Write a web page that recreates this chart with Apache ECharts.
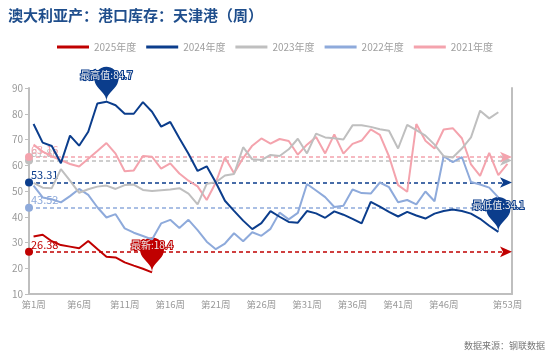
<!DOCTYPE html>
<html><head><meta charset="utf-8">
<script src="https://cdn.jsdelivr.net/npm/echarts@6/dist/echarts.min.js"></script>
<style>html,body{margin:0;padding:0;background:#fff}#c{width:550px;height:360px}</style>
</head><body><div id="c"></div>
<script>
const weeks = Array.from({length: 53}, (_, i) => '第' + (i + 1) + '周');
const seriesNames = ['2025年度', '2024年度', '2023年度', '2022年度', '2021年度'];
const s2025 = [32.3,33.0,30.5,29.0,28.4,27.8,30.6,27.5,24.5,24.2,22.3,21.0,19.8,18.4];
const s2024 = [76.0,68.8,67.5,60.8,71.5,67.6,73.0,84.0,84.7,83.3,80.0,80.0,84.5,80.8,75.0,76.8,70.5,64.5,57.8,59.6,53.3,46.2,42.3,38.5,35.2,37.5,42.2,40.0,38.0,37.7,42.2,41.3,39.6,42.1,40.8,39.2,37.4,45.8,43.9,41.9,40.1,41.9,40.5,39.3,41.2,42.2,42.8,42.2,41.2,39.2,36.5,34.1];
const s2023 = [53.2,51.3,51.1,58.5,54.0,49.3,50.7,51.7,52.1,50.8,52.3,52.5,50.4,50.0,50.3,50.6,51.1,49.0,44.8,52.8,53.4,56.0,56.6,67.0,62.3,62.0,64.0,63.6,66.2,70.3,64.6,72.3,70.8,70.5,70.0,75.5,75.5,74.9,74.0,73.4,66.5,75.7,73.6,71.5,68.0,63.5,63.0,66.5,70.8,81.2,78.2,80.6];
const s2022 = [52.1,47.5,46.8,45.6,48.0,50.8,48.5,43.7,39.7,41.0,35.5,33.8,32.5,31.2,37.4,38.8,35.6,38.8,34.8,30.3,27.4,29.6,33.6,30.5,34.0,32.6,35.3,41.6,39.0,41.5,52.7,50.2,47.6,43.8,44.3,50.6,49.2,49.0,53.3,51.5,45.6,46.5,44.8,49.8,46.0,63.5,61.2,63.2,53.5,52.5,51.3,47.5];
const s2021 = [68.0,65.3,63.5,62.0,60.5,59.5,62.5,65.5,68.6,64.5,57.7,58.0,63.6,63.3,58.7,60.7,56.8,54.0,51.8,46.5,53.3,63.0,56.9,62.8,67.6,70.4,68.4,70.2,69.4,64.1,68.0,71.0,64.6,72.0,64.5,68.3,69.6,73.9,71.8,63.5,52.3,49.7,76.0,69.5,66.5,73.9,74.4,70.5,60.3,55.9,64.8,56.2,60.5];
const avgValues = [26.38, 53.31, 61.88, 43.52, 63.16];
const colors = ['#c00000', '#0b3d8c', '#bfbfbf', '#8eaadb', '#f4a3ad'];
const dataSets = [s2025, s2024, s2023, s2022, s2021];

const FONT = '"Noto Sans CJK SC", "Noto Sans", sans-serif';
const series = seriesNames.map((n, k) => ({
  name: n, type: 'line', data: dataSets[k], showSymbol: false, symbol: 'none',
  z: 10 - k, animation: false,
  lineStyle: {width: 2, color: colors[k]}, itemStyle: {color: colors[k]},
  markLine: {
    silent: true, symbol: ['circle', 'arrow'], symbolSize: [8, 12], animation: false,
    lineStyle: {type: [4, 3], width: 1.5, color: colors[k]},
    label: {position: 'insideStartTop', color: colors[k], fontSize: 11, fontFamily: FONT, distance: 2,
      formatter: p => Number(p.value).toFixed(2)},
    data: [{yAxis: avgValues[k]}]
  }
}));
const last = s2025.length - 1;
series[0].markPoint = {
  symbol: 'pin', symbolSize: 40, animation: false,
  itemStyle: {color: colors[0]},
  label: {fontSize: 10, fontFamily: FONT, formatter: '{b}:{c}', offset: [0, -6]},
  data: [{name: '最新', coord: [last, s2025[last]], value: s2025[last]}]
};
series[1].markPoint = {
  symbol: 'pin', symbolSize: 40, animation: false,
  itemStyle: {color: colors[1]},
  label: {fontSize: 10, fontFamily: FONT, formatter: '{b}:{c}', offset: [0, -6]},
  data: [{type: 'max', name: '最高值'}, {type: 'min', name: '最低值'}]
};

const chart = echarts.init(document.getElementById('c'), null, {renderer: 'canvas'});
chart.setOption({
  animation: false,
  textStyle: {fontFamily: FONT},
  title: {text: '澳大利亚产：港口库存：天津港（周）', left: 3, top: 3,
    textStyle: {fontSize: 15, fontWeight: 'bold', color: '#1f4e8c', fontFamily: FONT}},
  legend: {data: seriesNames, top: 37, left: 'center', icon: 'rect', itemWidth: 32, itemHeight: 3, itemGap: 10,
    textStyle: {color: '#a0a0a0', fontSize: 10, fontFamily: FONT}},
  grid: {left: 29, right: 38, top: 88, bottom: 66},
  xAxis: {type: 'category', data: weeks, boundaryGap: true,
    axisLine: {lineStyle: {color: '#bfbfbf', width: 2}},
    axisTick: {interval: i => i % 5 === 0, length: 4, lineStyle: {color: '#bfbfbf', width: 1.5}},
    axisLabel: {interval: i => (i % 5 === 0 && i < 50) || i === 52, color: '#999', fontSize: 9.5, margin: 6}},
  yAxis: [{type: 'value', min: 10, max: 90, interval: 10,
    axisLine: {show: true, lineStyle: {color: '#bfbfbf', width: 2}},
    axisTick: {show: true, length: 4, lineStyle: {color: '#bfbfbf'}},
    axisLabel: {color: '#999', fontSize: 10, margin: 6},
    splitLine: {show: false}},
    {type: 'value', min: 10, max: 90, interval: 10, position: 'right',
    axisLine: {show: true, lineStyle: {color: '#bfbfbf', width: 2}},
    axisTick: {show: false}, axisLabel: {show: false}, splitLine: {show: false}}],
  graphic: [{type: 'text', right: 5, top: 341,
    style: {text: '数据来源：钢联数据', fill: '#777', font: '9px ' + FONT}}],
  series: series
});
</script></body></html>
